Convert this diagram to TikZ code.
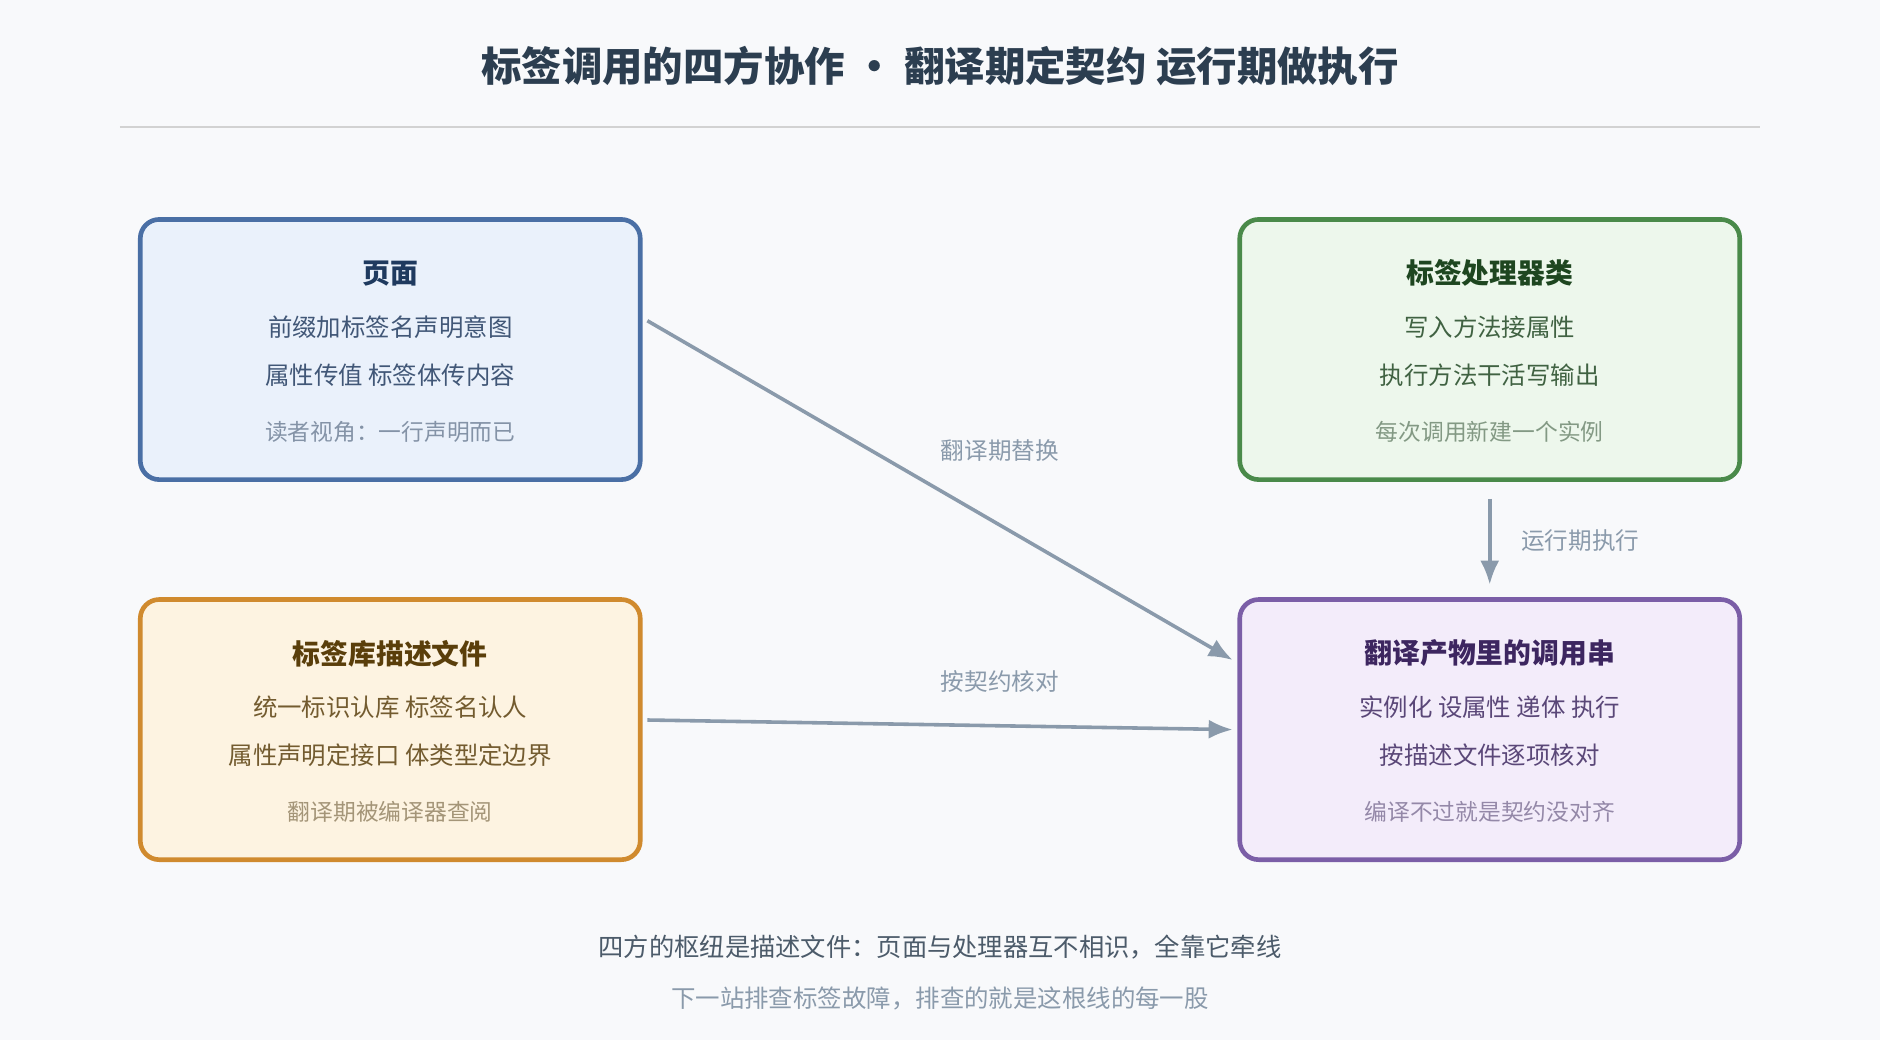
\documentclass[tikz,border=0pt]{standalone}
\usepackage{fontspec}
\setmainfont{Noto Sans CJK SC}
\usetikzlibrary{arrows.meta,positioning}
\definecolor{bgc}{HTML}{F8F9FB}
\definecolor{titlec}{HTML}{2C3E50}
\definecolor{linkc}{HTML}{8A9AAB}
\definecolor{bluel}{HTML}{4A6FA5}\definecolor{bluef}{HTML}{EAF1FB}\definecolor{bluet}{HTML}{1F3A5F}
\definecolor{greenl}{HTML}{4A8A4A}\definecolor{greenf}{HTML}{EDF7EC}\definecolor{greent}{HTML}{1E4620}
\definecolor{orangel}{HTML}{D08A2E}\definecolor{orangef}{HTML}{FDF3E1}\definecolor{oranget}{HTML}{5A3E0A}
\definecolor{purplel}{HTML}{7B5EA7}\definecolor{purplef}{HTML}{F3ECFA}\definecolor{purplet}{HTML}{3D2660}
\tikzset{
  card/.style={draw=#1l, fill=#1f, line width=1.1pt, rounded corners=4.5pt,
    minimum width=41.7mm, minimum height=21.7mm, inner sep=0pt},
  head/.style={font=\fontsize{6.6}{8}\selectfont\bfseries, text=#1t},
  body/.style={font=\fontsize{5.8}{7}\selectfont, text=#1t!85!white},
  note/.style={font=\fontsize{5.4}{7}\selectfont, text=#1t!55!white},
  link/.style={draw=linkc, line width=0.85pt, -{Latex[length=2mm,width=1.6mm]}},
  linklabel/.style={font=\fontsize{5.6}{7}\selectfont, text=linkc}
}
\begin{document}
\begin{tikzpicture}[x=0.1mm, y=-0.1mm]
  \fill[bgc] (0,0) rectangle (1568,867);
  \useasboundingbox (0,0) rectangle (1568,867);
  % --- Title ---
  \node[font=\fontsize{9.6}{11}\selectfont\bfseries, text=titlec] (title) at (784,55)
    {标签调用的四方协作 · 翻译期定契约 运行期做执行};
  \draw[gray!35, line width=0.4pt] (100,106) -- (1468,106);

  % --- Cards ---
  \node[card=blue] (page) at (325.5,291.5) {};
  \node[head=blue] at (325.5,228) {页面};
  \node[body=blue] at (325.5,273) {前缀加标签名声明意图};
  \node[body=blue] at (325.5,313) {属性传值 标签体传内容};
  \node[note=blue] at (325.5,360) {读者视角：一行声明而已};

  \node[card=green] (handler) at (1242.5,291.5) {};
  \node[head=green] at (1242.5,228) {标签处理器类};
  \node[body=green] at (1242.5,273) {写入方法接属性};
  \node[body=green] at (1242.5,313) {执行方法干活写输出};
  \node[note=green] at (1242.5,360) {每次调用新建一个实例};

  \node[card=orange] (tld) at (325.5,608.5) {};
  \node[head=orange] at (325.5,545) {标签库描述文件};
  \node[body=orange] at (325.5,590) {统一标识认库 标签名认人};
  \node[body=orange] at (325.5,630) {属性声明定接口 体类型定边界};
  \node[note=orange] at (325.5,677) {翻译期被编译器查阅};

  \node[card=purple] (calls) at (1242.5,608.5) {};
  \node[head=purple] at (1242.5,545) {翻译产物里的调用串};
  \node[body=purple] at (1242.5,590) {实例化 设属性 递体 执行};
  \node[body=purple] at (1242.5,630) {按描述文件逐项核对};
  \node[note=purple] at (1242.5,677) {编译不过就是契约没对齐};

  % --- Connectors ---
  \draw[link] ([shift={(4,-24)}]page.east) -- ([shift={(-4,-58)}]calls.west);
  \node[linklabel] at (834,376) {翻译期替换};
  \draw[link] ([yshift=-4]handler.south) -- ([yshift=3]calls.north);
  \node[linklabel] at (1318,451) {运行期执行};
  \draw[link] ([shift={(4,-8)}]tld.east) -- ([shift={(-4,0)}]calls.west);
  \node[linklabel] at (834,568) {按契约核对};

  % --- Footer ---
  \node[font=\fontsize{6}{7}\selectfont, text=titlec!85!white] at (784,790)
    {四方的枢纽是描述文件：页面与处理器互不相识，全靠它牵线};
  \node[font=\fontsize{5.8}{7}\selectfont, text=linkc] at (784,833)
    {下一站排查标签故障，排查的就是这根线的每一股};
\end{tikzpicture}
\end{document}
